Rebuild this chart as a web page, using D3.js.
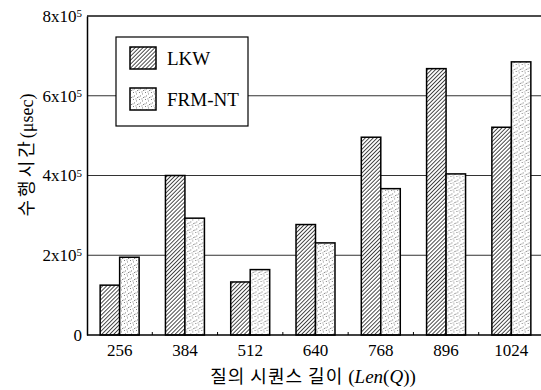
<!DOCTYPE html>
<html>
<head>
<meta charset="utf-8">
<script src="https://cdn.jsdelivr.net/npm/d3@7"></script>
<style>
  body { margin: 0; background: #fff; }
  svg { display: block; }
</style>
</head>
<body>
<div id="chart"></div>
<script>
var categories = ["256", "384", "512", "640", "768", "896", "1024"];
var series = ["LKW", "FRM-NT"];
var lkwValues = [1.25e5, 4.0e5, 1.33e5, 2.77e5, 4.96e5, 6.68e5, 5.21e5];
var frmValues = [1.95e5, 2.93e5, 1.64e5, 2.31e5, 3.67e5, 4.04e5, 6.85e5];
var yTicks = [0, 2e5, 4e5, 6e5, 8e5];
var yTickLabels = ["0", "2x10|5", "4x10|5", "6x10|5", "8x10|5"];

function drawChart(container){
    var width = 541, height = 390;
    var mLeft = 87, mRight = 544, mTop = 16, mBottom = 335;
    var serif = "'Liberation Serif', 'DejaVu Serif', serif";
    var kr = "'Noto Sans CJK KR', sans-serif";

    var svg = d3.select(container).append("svg")
        .attr("width", width)
        .attr("height", height)
        .attr("xmlns", "http://www.w3.org/2000/svg");

    var defs = svg.append("defs");

    // diagonal hatch for LKW
    var hatch = defs.append("pattern")
        .attr("id", "hatch")
        .attr("patternUnits", "userSpaceOnUse")
        .attr("width", 2.8)
        .attr("height", 2.8)
        .attr("patternTransform", "rotate(45)");
    hatch.append("rect").attr("width", 2.8).attr("height", 2.8).attr("fill", "#fff");
    hatch.append("line")
        .attr("x1", 0).attr("y1", 0).attr("x2", 0).attr("y2", 2.8)
        .attr("stroke", "#111").attr("stroke-width", 1.5);

    // stipple for FRM-NT
    var dots = defs.append("pattern")
        .attr("id", "dots")
        .attr("patternUnits", "userSpaceOnUse")
        .attr("width", 6)
        .attr("height", 7);
    dots.append("rect").attr("width", 6).attr("height", 7).attr("fill", "#fff");
    [[1, 1], [4, 2.5], [2, 4.5], [5, 6], [0.5, 5.5], [3.5, 0.5]].forEach(function(p){
        dots.append("rect")
            .attr("x", p[0]).attr("y", p[1])
            .attr("width", 0.9).attr("height", 0.9)
            .attr("fill", "#666");
    });

    var fills = {"LKW": "url(#hatch)", "FRM-NT": "url(#dots)"};

    var x = d3.scaleBand().domain(categories).range([mLeft, mRight]).padding(0);
    var x1 = d3.scaleBand().domain(series).range([0, x.bandwidth()])
        .paddingInner(0).paddingOuter(0.675);
    var y = d3.scaleLinear().domain([0, 8e5]).range([mBottom, mTop]);

    // gridlines
    svg.append("g").selectAll("line")
        .data(yTicks.slice(1, 4))
        .join("line")
        .attr("x1", mLeft).attr("x2", width)
        .attr("y1", function(d){ return y(d); })
        .attr("y2", function(d){ return y(d); })
        .attr("stroke", "#333")
        .attr("stroke-width", 1);

    // top frame
    svg.append("line")
        .attr("x1", mLeft).attr("x2", width)
        .attr("y1", y(8e5)).attr("y2", y(8e5))
        .attr("stroke", "#111").attr("stroke-width", 1.5);

    // bars
    var rows = categories.map(function(c, i){
        return {cat: c, vals: [{s: "LKW", v: lkwValues[i]}, {s: "FRM-NT", v: frmValues[i]}]};
    });

    svg.append("g").selectAll("g")
        .data(rows)
        .join("g")
        .attr("transform", function(d){ return "translate(" + x(d.cat) + ",0)"; })
        .selectAll("rect")
        .data(function(d){ return d.vals; })
        .join("rect")
        .attr("x", function(d){ return x1(d.s); })
        .attr("width", x1.bandwidth())
        .attr("y", function(d){ return y(d.v); })
        .attr("height", function(d){ return y(0) - y(d.v); })
        .attr("fill", function(d){ return fills[d.s]; })
        .attr("stroke", "#000")
        .attr("stroke-width", 1.5);

    // x axis
    var xAxis = svg.append("g")
        .attr("transform", "translate(0," + mBottom + ")")
        .call(d3.axisBottom(x).tickSize(0).tickPadding(9));
    xAxis.select(".domain").attr("stroke", "#000").attr("stroke-width", 1.5)
        .attr("d", "M" + mLeft + ",0H" + width);
    xAxis.selectAll("text")
        .attr("font-family", serif)
        .attr("font-size", 17)
        .attr("fill", "#000");

    // small ticks at group boundaries
    svg.append("g").selectAll("line")
        .data(categories.slice(1))
        .join("line")
        .attr("x1", function(d){ return x(d); })
        .attr("x2", function(d){ return x(d); })
        .attr("y1", mBottom).attr("y2", mBottom - 3)
        .attr("stroke", "#000");

    // y axis
    var yAxis = svg.append("g")
        .attr("transform", "translate(" + mLeft + ",0)")
        .call(d3.axisLeft(y).tickValues(yTicks).tickSize(0).tickPadding(5)
            .tickFormat(function(){ return ""; }));
    yAxis.select(".domain").attr("stroke", "#000").attr("stroke-width", 1.5);
    yAxis.selectAll(".tick text")
        .attr("font-family", serif)
        .attr("font-size", 17)
        .attr("fill", "#000")
        .each(function(d, i){
            var parts = yTickLabels[i].split("|");
            var t = d3.select(this);
            t.append("tspan").text(parts[0]);
            if (parts[1]) {
                t.append("tspan")
                    .attr("font-size", 11)
                    .attr("dy", "-0.45em")
                    .text(parts[1]);
            }
        });

    // legend
    var legend = svg.append("g");
    legend.append("rect")
        .attr("x", 116).attr("y", 37)
        .attr("width", 132).attr("height", 89)
        .attr("fill", "#fff")
        .attr("stroke", "#000")
        .attr("stroke-width", 1.2);
    series.forEach(function(s, i){
        var ly = 47 + i * 41;
        legend.append("rect")
            .attr("x", 130).attr("y", ly)
            .attr("width", 26).attr("height", 22)
            .attr("fill", fills[s])
            .attr("stroke", "#000")
            .attr("stroke-width", 1.5);
        legend.append("text")
            .attr("x", 167).attr("y", ly + 18)
            .attr("font-family", serif)
            .attr("font-size", 19)
            .attr("fill", "#000")
            .text(s);
    });

    // axis titles
    var xt = svg.append("text")
        .attr("x", 313).attr("y", 383)
        .attr("text-anchor", "middle")
        .attr("font-size", 18)
        .attr("fill", "#000");
    xt.append("tspan").attr("font-family", kr).attr("letter-spacing", 1).text("질의 시퀀스 길이 ");
    xt.append("tspan").attr("font-family", serif).attr("font-size", 19).text("(");
    xt.append("tspan").attr("font-family", serif).attr("font-size", 19).attr("font-style", "italic").text("Len");
    xt.append("tspan").attr("font-family", serif).attr("font-size", 19).text("(");
    xt.append("tspan").attr("font-family", serif).attr("font-size", 19).attr("font-style", "italic").text("Q");
    xt.append("tspan").attr("font-family", serif).attr("font-size", 19).text("))");

    var yt = svg.append("text")
        .attr("transform", "translate(33,155) rotate(-90)")
        .attr("text-anchor", "middle")
        .attr("font-size", 18)
        .attr("fill", "#000");
    yt.append("tspan").attr("font-family", kr).attr("letter-spacing", 3).text("수행시간");
    yt.append("tspan").attr("font-family", serif).text("(μsec)");
}

drawChart("#chart");
</script>
</body>
</html>
